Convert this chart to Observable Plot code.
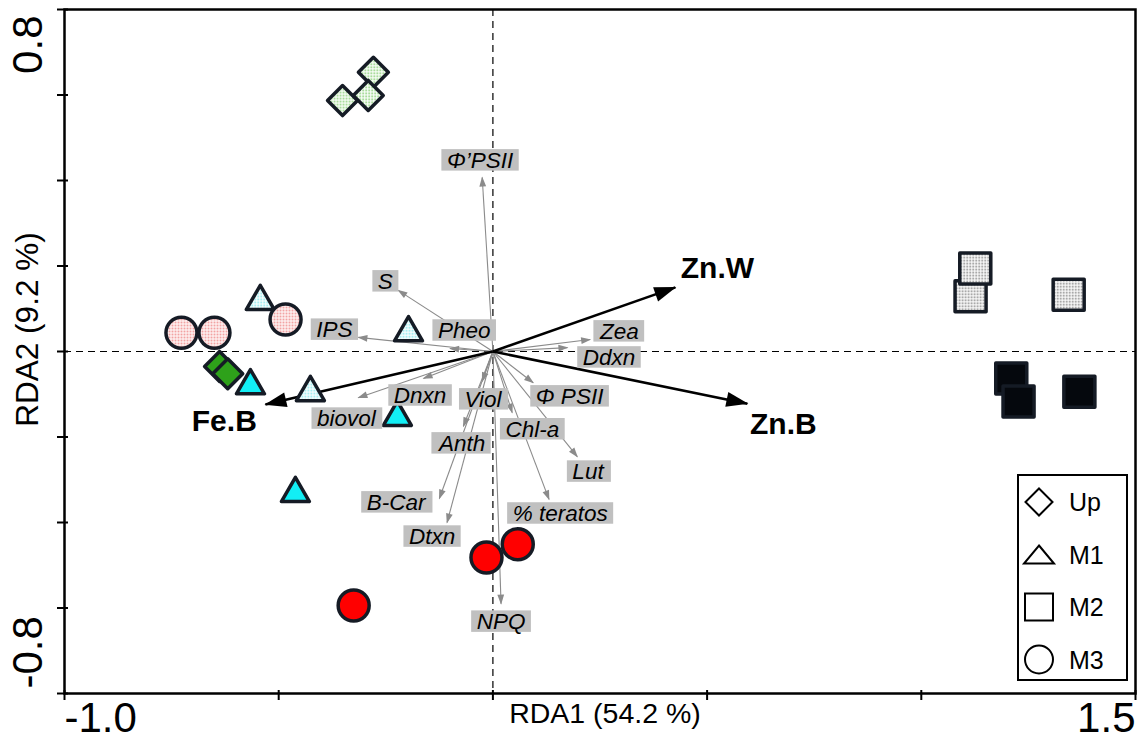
<!DOCTYPE html>
<html>
<head>
<meta charset="utf-8">
<script src="https://cdn.jsdelivr.net/npm/d3@7"></script>
<script src="https://cdn.jsdelivr.net/npm/@observablehq/plot@0.6"></script>
<style>
  html, body { margin: 0; padding: 0; background: #fff; }
  #chart { position: relative; width: 1141px; height: 749px; }
  #legend { position: absolute; left: 1017px; top: 474px; }
</style>
</head>
<body>
<div id="chart"><svg id="legend" width="112" height="208"></svg></div>
<script>
// ---------- data ----------
const xTitle = "RDA1 (54.2 %)";
const yTitle = "RDA2 (9.2 %)";
const xTicks = [-1.0, -0.5, 0, 0.5, 1.0, 1.5];
const yTicks = [-0.8, -0.6, -0.4, -0.2, 0, 0.2, 0.4, 0.6, 0.8];
const xTickLabelValues = [-1.0, 1.5];
const xTickLabelTexts = ["-1.0", "1.5"];
const yTickLabelValues = [0.8, -0.8];
const yTickLabelTexts = ["0.8", "-0.8"];

// samples
const sites = ["Up", "M1", "M2", "M3"];
const sampleSite = ["Up","Up","Up","Up","Up",
                    "M1","M1","M1","M1","M1","M1",
                    "M2","M2","M2","M2","M2","M2",
                    "M3","M3","M3","M3","M3","M3"];
const sampleShade = ["light","light","light","dark","dark",
                     "light","light","light","dark","dark","dark",
                     "light","light","light","dark","dark","dark",
                     "light","light","light","dark","dark","dark"];
const sampleX = [-0.279, -0.351, -0.291, -0.638, -0.619,
                 -0.543, -0.197, -0.426, -0.566, -0.223, -0.461,
                  1.115,  1.126,  1.344,  1.210,  1.227,  1.369,
                 -0.727, -0.650, -0.484, -0.015,  0.058, -0.325];
const sampleY = [ 0.653,  0.587,  0.599, -0.035, -0.052,
                  0.117,  0.044, -0.096, -0.080, -0.154, -0.332,
                  0.129,  0.194,  0.133, -0.063, -0.117, -0.094,
                  0.044,  0.044,  0.075, -0.482, -0.451, -0.594];

// response variables (grey arrows)
const varNames = ["Φ’PSII","S","IPS","Pheo","Dnxn","biovol","Viol","Anth","B-Car","Dtxn",
                  "NPQ","% teratos","Lut","Chl-a","Φ PSII","Zea","Ddxn"];
const varX = [-0.025, -0.221, -0.314, -0.100, -0.162, -0.314, -0.025, -0.069, -0.125, -0.107,
               0.019,  0.131,  0.197,  0.045,  0.094,  0.227,  0.174];
const varY = [ 0.407,  0.143,  0.033,  0.007, -0.063, -0.108, -0.070, -0.175, -0.344, -0.400,
              -0.590, -0.346, -0.246, -0.143, -0.073,  0.028,  0.009];
const varLabelX = [-0.030, -0.251, -0.370, -0.067, -0.170, -0.342, -0.023, -0.072, -0.226, -0.142,
                    0.019,  0.157,  0.222,  0.092,  0.179,  0.295,  0.271];
const varLabelY = [ 0.447,  0.164,  0.051,  0.049, -0.103, -0.157, -0.112, -0.215, -0.353, -0.433,
                   -0.632, -0.379, -0.281, -0.182, -0.105,  0.047, -0.014];

// explanatory variables (black arrows)
const envNames = ["Zn.W", "Zn.B", "Fe.B"];
const envX = [0.426, 0.594, -0.531];
const envY = [0.150, -0.122, -0.124];
const envLabelX = [0.524, 0.678, -0.627];
const envLabelY = [0.194, -0.170, -0.164];

// ---------- tables ----------
const samples = sampleX.map((x, i) => ({x, y: sampleY[i], site: sampleSite[i], shade: sampleShade[i]}));
const vars = varNames.map((name, i) => ({name, x: varX[i], y: varY[i], lx: varLabelX[i], ly: varLabelY[i]}));
const envs = envNames.map((name, i) => ({name, x: envX[i], y: envY[i], lx: envLabelX[i], ly: envLabelY[i]}));

// ---------- styles ----------
const siteSymbol = {Up: "diamond2", M1: "triangle", M2: "square", M3: "circle"};
const siteR = {Up: 13.5, M1: 10.4, M2: 17.5, M3: 15.5};
const fills = {
  Up: {light: "url(#pat-green)", dark: "#2ea11a"},
  M1: {light: "url(#pat-cyan)", dark: "#12eef5"},
  M2: {light: "url(#pat-grey)", dark: "#05080d"},
  M3: {light: "url(#pat-pink)", dark: "#ff0000"}
};
const markStroke = "#151b25";
const greyArrow = "#8b8b8b";

const dotMarks = [];
for (const site of sites) {
  for (const shade of ["light", "dark"]) {
    dotMarks.push(Plot.dot(samples.filter(d => d.site === site && d.shade === shade), {
      x: "x", y: "y", symbol: siteSymbol[site], r: siteR[site],
      fill: fills[site][shade], stroke: markStroke, strokeWidth: 3.5, strokeLinejoin: "round"
    }));
  }
}

const font = "'Liberation Sans', Arial, Helvetica, sans-serif";

const svg = Plot.plot({
  width: 1141, height: 749,
  marginLeft: 64, marginRight: 6, marginTop: 9, marginBottom: 56,
  x: {domain: [-1, 1.5], axis: null},
  y: {domain: [-0.8, 0.8], axis: null},
  style: {fontFamily: font, background: "#fff", overflow: "visible", color: "#000"},
  marks: [
    Plot.ruleX([0], {stroke: "#000", strokeWidth: 1.2, strokeDasharray: "7,5"}),
    Plot.ruleY([0], {stroke: "#000", strokeWidth: 1.2, strokeDasharray: "7,5"}),
    Plot.link(vars, {x1: 0, y1: 0, x2: "x", y2: "y", stroke: greyArrow, strokeWidth: 1.1}),
    Plot.link(envs, {x1: 0, y1: 0, x2: "x", y2: "y", stroke: "#000", strokeWidth: 2.6}),
    ...dotMarks,
    Plot.text(vars, {x: "lx", y: "ly", text: "name", fontStyle: "italic", fontSize: 22.5, fill: "#000"}),
    Plot.text(envs, {x: "lx", y: "ly", text: "name", fontWeight: "bold", fontSize: 30, fill: "#000"}),
    Plot.frame({stroke: "#000", strokeWidth: 2.5}),
    Plot.axisX(xTicks, {tickSize: 10, dy: -3, tickFormat: () => "", strokeWidth: 2}),
    Plot.axisY(yTicks, {tickSize: 11, dx: 4, tickFormat: () => "", strokeWidth: 2}),
    Plot.text([xTickLabelValues[0]], {x: d => d, text: () => xTickLabelTexts[0], frameAnchor: "bottom",
      textAnchor: "start", dy: 38, fontSize: 42, fill: "#000"}),
    Plot.text([xTickLabelValues[1]], {x: d => d, text: () => xTickLabelTexts[1], frameAnchor: "bottom",
      textAnchor: "end", dy: 38, fontSize: 42, fill: "#000"}),
    Plot.text([yTickLabelValues[0]], {y: d => d, text: () => yTickLabelTexts[0], frameAnchor: "left",
      rotate: -90, textAnchor: "end", dx: -36, dy: 6, fontSize: 42, fill: "#000"}),
    Plot.text([yTickLabelValues[1]], {y: d => d, text: () => yTickLabelTexts[1], frameAnchor: "left",
      rotate: -90, textAnchor: "start", dx: -36, dy: -5, fontSize: 42, fill: "#000"}),
    Plot.text([xTitle], {frameAnchor: "bottom", textAnchor: "middle", dx: 5, dy: 29, fontSize: 28.5, fill: "#000"}),
    Plot.text([yTitle], {frameAnchor: "left", rotate: -90, textAnchor: "middle", dx: -37, dy: -22, fontSize: 31.5, fill: "#000"})
  ]
});

const chart = document.getElementById("chart");
chart.insertBefore(svg, chart.firstChild);

// ---------- defs: patterns and arrow heads ----------
const root = d3.select(svg);
const defs = root.insert("defs", ":first-child");
function pattern(id, color) {
  const p = defs.append("pattern").attr("id", id).attr("patternUnits", "userSpaceOnUse")
    .attr("width", 3).attr("height", 3);
  p.append("rect").attr("width", 3).attr("height", 3).attr("fill", "#fff");
  p.append("rect").attr("width", 2).attr("height", 2).attr("fill", color);
}
pattern("pat-green", "#a9dc9c");
pattern("pat-cyan", "#a6eef2");
pattern("pat-grey", "#a9a9a9");
pattern("pat-pink", "#f2a3a3");

function head(id, color, len, half) {
  defs.append("marker").attr("id", id).attr("markerUnits", "userSpaceOnUse").attr("orient", "auto")
    .attr("viewBox", "-30 -15 32 30").attr("markerWidth", 32).attr("markerHeight", 30)
    .attr("refX", 0).attr("refY", 0).style("overflow", "visible")
    .append("path").attr("d", `M1,0L${-len},${-half}L${-len},${half}Z`).attr("fill", color);
}
head("head-black", "#000", 21, 7.5);
head("head-grey", greyArrow, 9, 3.4);

// find the link groups by their stroke colour
root.selectAll("g").each(function() {
  const st = this.getAttribute("stroke");
  const paths = d3.select(this).selectAll(":scope > path");
  if (paths.empty()) return;
  if (this.getAttribute("aria-label") !== "link") return;
  if (st === "#000") paths.attr("marker-end", "url(#head-black)");
  else if (st === greyArrow) paths.attr("marker-end", "url(#head-grey)");
});

// grey boxes behind italic variable labels
root.selectAll("g").each(function() {
  if (this.getAttribute("font-style") !== "italic") return;
  d3.select(this).selectAll(":scope > text").each(function() {
    const b = this.getBBox();
    d3.select(this.parentNode).insert("rect", () => this)
      .attr("x", b.x - 5.5).attr("y", b.y + 1.5)
      .attr("width", b.width + 11).attr("height", b.height - 3.5)
      .attr("fill", "#c0c0c0")
      .attr("transform", this.getAttribute("transform"));
  });
});

// ---------- legend ----------
const lg = d3.select("#legend").style("font-family", font);
lg.append("rect").attr("x", 1).attr("y", 1).attr("width", 109).attr("height", 205)
  .attr("fill", "#fff").attr("stroke", "#000").attr("stroke-width", 2);
const legendShapes = {
  Up: "M0,-13.5L13.5,0L0,13.5L-13.5,0Z",
  M1: "M0,-9L15,9L-15,9Z",
  M2: "M-14,-13.5H14V13.5H-14Z",
  M3: null
};
sites.forEach((s, i) => {
  const cy = 28 + i * 52.5;
  const g = lg.append("g").attr("transform", `translate(22,${cy})`);
  if (legendShapes[s]) g.append("path").attr("d", legendShapes[s]);
  else g.append("circle").attr("r", 14);
  g.selectAll("path,circle").attr("fill", "none").attr("stroke", "#000").attr("stroke-width", 2);
  lg.append("text").attr("x", 52).attr("y", cy + 9).attr("font-size", 25).attr("fill", "#000").text(s);
});
</script>
</body>
</html>
